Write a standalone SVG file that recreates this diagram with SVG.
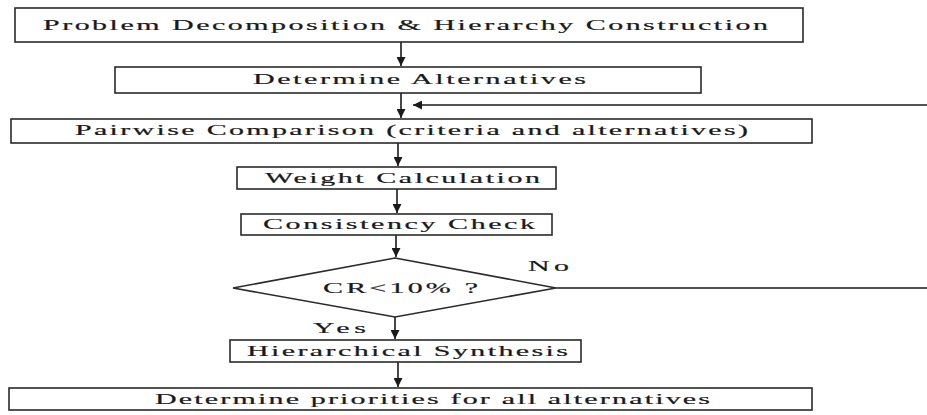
<svg xmlns="http://www.w3.org/2000/svg" width="927" height="415" viewBox="0 0 927 415">
<defs>
<style>
.box{fill:#fff;stroke:#2a2a2a;stroke-width:1.6}
.ln{fill:none;stroke:#1a1a1a;stroke-width:1.6}
.t{font-family:"Liberation Serif","Times New Roman",serif;font-size:15px;fill:#1a1a1a;stroke:#1a1a1a;stroke-width:0.2}
</style>
<marker id="ah" viewBox="0 0 10 10" refX="10" refY="5" markerWidth="10" markerHeight="9" markerUnits="userSpaceOnUse" orient="auto">
<path d="M0,0 L10,5 L0,10 z" fill="#1a1a1a"/>
</marker>
</defs>
<rect width="927" height="415" fill="#fff"/>
<g id="connectors">
<line class="ln" x1="401" y1="42" x2="401" y2="66" marker-end="url(#ah)"/>
<line class="ln" x1="401" y1="93" x2="401" y2="118" marker-end="url(#ah)"/>
<line class="ln" x1="927" y1="105" x2="413" y2="105" marker-end="url(#ah)"/>
<line class="ln" x1="398" y1="143" x2="398" y2="166" marker-end="url(#ah)"/>
<line class="ln" x1="397" y1="189" x2="397" y2="213" marker-end="url(#ah)"/>
<line class="ln" x1="396" y1="235" x2="396" y2="257" marker-end="url(#ah)"/>
<line class="ln" x1="556" y1="288" x2="927" y2="288"/>
<line class="ln" x1="395" y1="317" x2="395" y2="339" marker-end="url(#ah)"/>
<line class="ln" x1="398" y1="362" x2="398" y2="387" marker-end="url(#ah)"/>
<text class="t" transform="scale(2,1)" x="264" y="271" textLength="20.5" lengthAdjust="spacing">No</text>
<text class="t" transform="scale(2,1)" x="156.5" y="333" textLength="26.5" lengthAdjust="spacing">Yes</text>
</g>
<g id="n1">
<rect class="box" x="15" y="8" width="788" height="34"/>
<text class="t" transform="scale(2,1)" x="21.5" y="30" textLength="362.5" lengthAdjust="spacing">Problem Decomposition &amp; Hierarchy Construction</text>
</g>
<g id="n2">
<rect class="box" x="115" y="67" width="586" height="26"/>
<text class="t" transform="scale(2,1)" x="126.5" y="84" textLength="166.5" lengthAdjust="spacing">Determine Alternatives</text>
</g>
<g id="n3">
<rect class="box" x="11" y="119" width="801" height="24"/>
<text class="t" transform="scale(2,1)" x="37.5" y="135" textLength="336.5" lengthAdjust="spacing">Pairwise Comparison (criteria and alternatives)</text>
</g>
<g id="n4">
<rect class="box" x="237" y="167" width="319" height="22"/>
<text class="t" transform="scale(2,1)" x="132.5" y="183" textLength="137.5" lengthAdjust="spacing">Weight Calculation</text>
</g>
<g id="n5">
<rect class="box" x="241" y="214" width="311" height="21"/>
<text class="t" transform="scale(2,1)" x="131.5" y="229" textLength="136" lengthAdjust="spacing">Consistency Check</text>
</g>
<g id="n6">
<polygon class="box" points="395,258 556,288 395,317 233,288"/>
<text class="t" transform="scale(2,1)" x="161.5" y="293" textLength="77.5" lengthAdjust="spacing">CR&lt;10% ?</text>
</g>
<g id="n7">
<rect class="box" x="230" y="340" width="351" height="22"/>
<text class="t" transform="scale(2,1)" x="123.5" y="356" textLength="160.5" lengthAdjust="spacing">Hierarchical Synthesis</text>
</g>
<g id="n8">
<rect class="box" x="9" y="388" width="803" height="22"/>
<text class="t" transform="scale(2,1)" x="77.5" y="404" textLength="277.5" lengthAdjust="spacing">Determine priorities for all alternatives</text>
</g>
</svg>
